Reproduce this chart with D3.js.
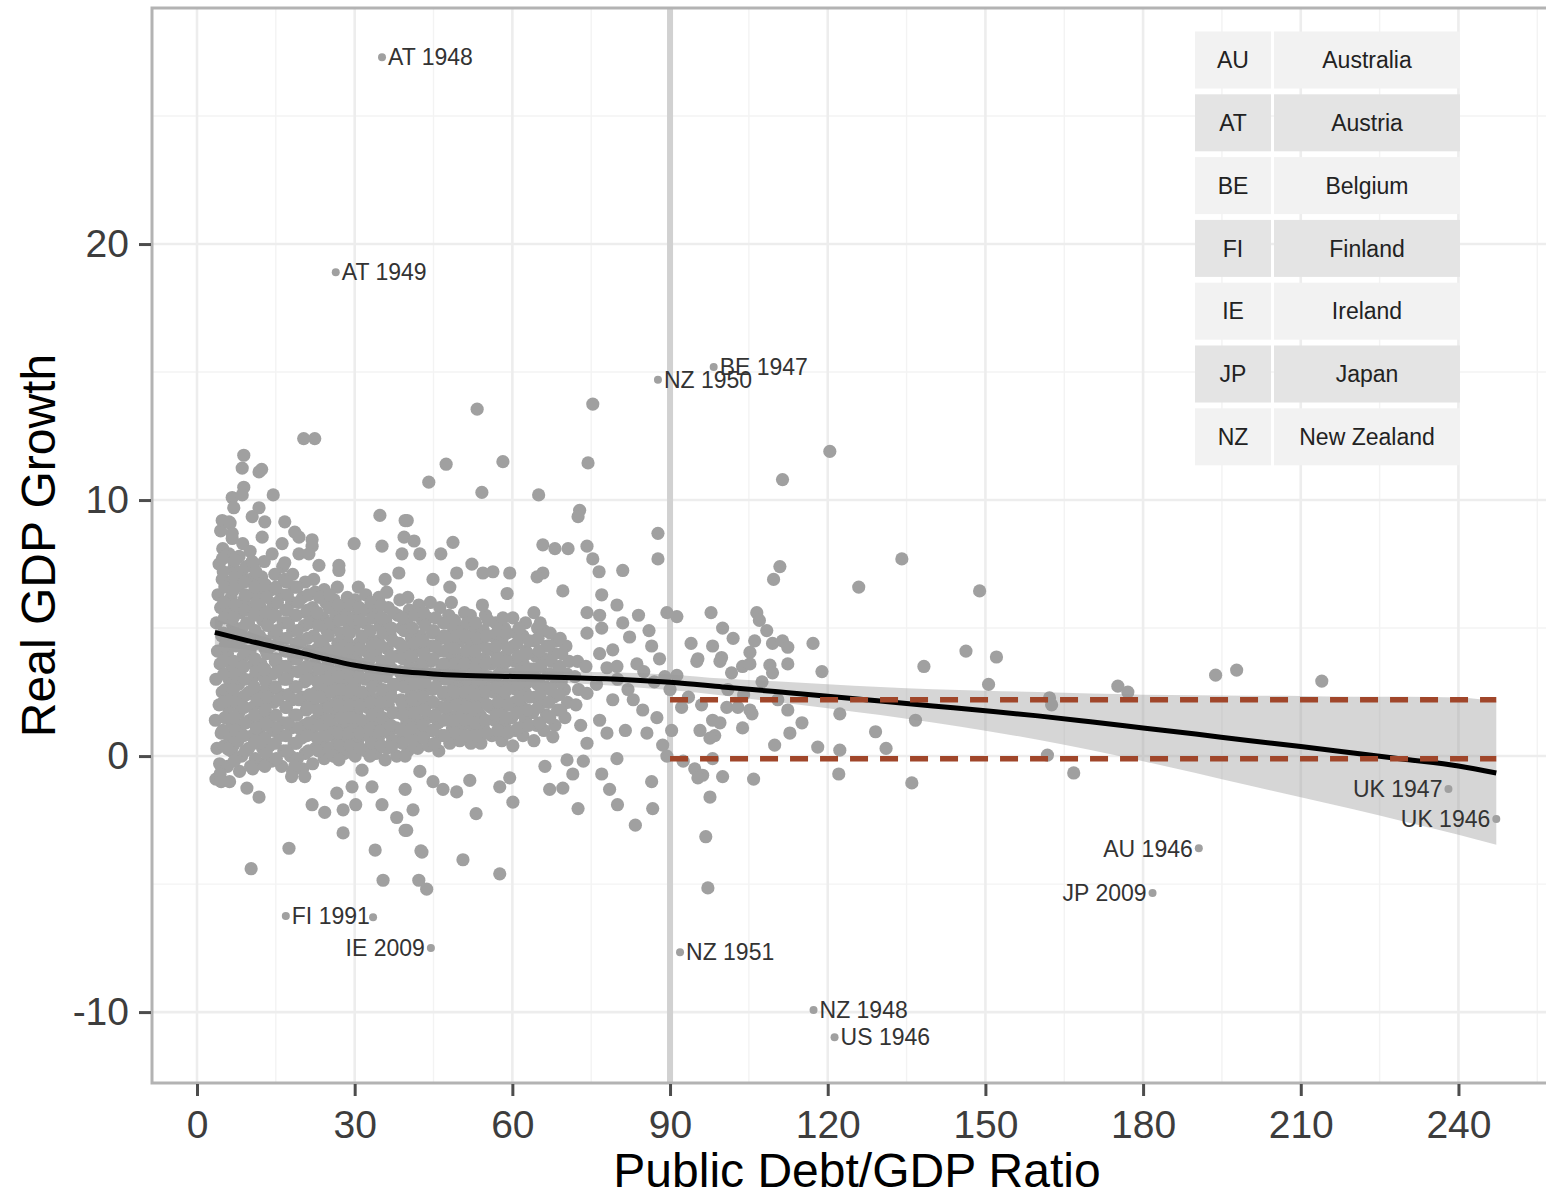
<!DOCTYPE html>
<html>
<head>
<meta charset="utf-8">
<title>debt vs growth</title>
<script src="https://cdnjs.cloudflare.com/ajax/libs/d3/7.8.5/d3.min.js"></script>
<style>
body{margin:0;background:#fff;}
svg{display:block;}
text{font-family:"Liberation Sans",Arial,Helvetica,sans-serif;}
</style>
</head>
<body>
<script>
// ---- data ----
var xTicks = [0,30,60,90,120,150,180,210,240];
var yTicks = [-10,0,10,20];

// dense cloud, debt < 75
var coreCloud = [
 [3.6,-0.9],[4.3,-0.3],[3.8,0.3],[4.6,0.9],[3.5,1.4],[4.2,2.0],[4.8,2.5],[3.6,3.0],[4.4,3.6],[3.9,4.1],[4.7,4.7],[3.7,5.2],[4.5,5.8],[4.0,6.3],[4.8,6.9],[4.2,7.5],[4.9,8.1],[4.5,8.8],
 [6.2,-1.0],[5.8,-0.4],[6.5,0.2],[6.0,0.8],[6.6,1.3],[5.9,1.9],[6.4,2.4],[6.1,3.0],[6.7,3.5],[5.8,4.0],[6.3,4.6],[6.8,5.1],[6.0,5.7],[6.5,6.2],[6.2,6.8],[6.9,7.3],[6.1,7.9],[6.7,8.5],[6.3,9.1],
 [8.1,-0.6],[8.5,0.0],[7.8,0.6],[8.4,1.2],[8.0,1.7],[8.7,2.3],[7.9,2.8],[8.3,3.4],[8.8,3.9],[8.0,4.5],[8.6,5.0],[8.2,5.6],[8.9,6.1],[8.1,6.7],[8.5,7.2],[8.0,7.8],[8.7,8.3],
 [10.2,-0.4],[9.8,0.3],[10.5,0.8],[10.0,1.4],[10.6,1.9],[9.9,2.5],[10.4,3.0],[10.8,3.6],[10.1,4.1],[10.6,4.7],[9.8,5.2],[10.3,5.8],[10.9,6.3],[10.2,6.9],[10.7,7.4],[10.1,8.0],
 [12.1,-0.3],[12.5,0.3],[11.8,0.9],[12.4,1.4],[12.8,2.0],[12.0,2.5],[12.6,3.1],[12.2,3.6],[12.9,4.2],[11.9,4.7],[12.5,5.3],[12.1,5.8],[12.7,6.4],[12.3,7.0],[12.8,7.6],
 [14.2,-0.2],[13.8,0.4],[14.5,1.0],[14.0,1.5],[14.6,2.1],[13.9,2.6],[14.4,3.2],[14.9,3.7],[14.1,4.3],[14.7,4.8],[14.0,5.4],[14.5,5.9],[14.2,6.5],[14.8,7.1],
 [16.1,-0.4],[16.5,0.2],[15.8,0.8],[16.3,1.3],[16.9,1.9],[16.0,2.4],[16.6,3.0],[16.2,3.5],[16.8,4.1],[15.9,4.6],[16.4,5.2],[16.9,5.7],[16.1,6.3],[16.6,6.9],[16.3,7.4],
 [18.2,-0.6],[17.8,0.0],[18.5,0.5],[18.0,1.1],[18.6,1.6],[18.1,2.2],[18.7,2.7],[17.9,3.3],[18.4,3.8],[18.9,4.4],[18.2,4.9],[18.7,5.5],[18.0,6.0],[18.5,6.6],[18.2,7.1],
 [20.1,-0.5],[20.6,0.1],[19.9,0.7],[20.4,1.2],[20.8,1.8],[20.0,2.3],[20.5,2.9],[20.2,3.4],[20.9,4.0],[19.9,4.5],[20.4,5.1],[20.8,5.6],[20.1,6.2],[20.6,6.8],
 [22.0,-0.3],[22.5,0.3],[21.9,0.9],[22.6,1.4],[22.1,2.0],[22.7,2.5],[21.9,3.1],[22.4,3.6],[22.9,4.2],[22.2,4.7],[22.6,5.3],[22.0,5.8],[22.5,6.4],[22.2,6.9],
 [24.2,-0.1],[23.8,0.5],[24.5,1.0],[24.0,1.6],[24.6,2.1],[23.9,2.7],[24.4,3.2],[24.8,3.8],[24.1,4.3],[24.7,4.9],[24.0,5.4],[24.5,6.0],[24.2,6.5],
 [26.1,0.0],[26.6,0.6],[25.9,1.1],[26.4,1.7],[26.8,2.2],[26.0,2.8],[26.5,3.3],[26.2,3.9],[26.8,4.4],[25.9,5.0],[26.4,5.5],[26.1,6.1],[26.7,6.6],
 [28.0,0.1],[28.5,0.7],[27.9,1.2],[28.4,1.8],[28.8,2.3],[28.1,2.9],[28.6,3.4],[28.0,4.0],[28.5,4.5],[28.9,5.1],[28.2,5.6],[28.6,6.2],
 [30.1,0.0],[30.6,0.6],[29.9,1.1],[30.4,1.7],[30.8,2.2],[30.0,2.8],[30.5,3.3],[30.2,3.9],[30.8,4.4],[29.9,5.0],[30.4,5.5],[30.1,6.1],[30.7,6.6],
 [32.1,0.2],[32.5,0.8],[31.9,1.3],[32.4,1.9],[32.8,2.4],[32.0,3.0],[32.6,3.5],[32.2,4.1],[32.8,4.6],[31.9,5.2],[32.4,5.7],[32.1,6.3],
 [34.0,0.1],[34.5,0.7],[33.9,1.2],[34.4,1.8],[34.9,2.3],[34.1,2.9],[34.6,3.4],[34.0,4.0],[34.5,4.5],[34.9,5.1],[34.2,5.6],[34.6,6.2],
 [36.1,0.3],[36.6,0.9],[35.9,1.4],[36.4,2.0],[36.8,2.5],[36.0,3.1],[36.5,3.6],[36.2,4.2],[36.8,4.7],[35.9,5.3],[36.4,5.8],[36.1,6.4],
 [38.0,0.0],[38.5,0.6],[37.9,1.1],[38.4,1.7],[38.8,2.2],[38.1,2.8],[38.6,3.3],[38.0,3.9],[38.5,4.4],[38.9,5.0],[38.2,5.5],[38.6,6.1],
 [40.1,0.2],[40.6,0.8],[39.9,1.3],[40.4,1.9],[40.8,2.4],[40.0,3.0],[40.5,3.5],[40.2,4.1],[40.8,4.6],[39.9,5.2],[40.4,5.7],[40.1,6.2],
 [42.0,0.3],[42.5,0.9],[41.9,1.4],[42.4,2.0],[42.9,2.5],[42.1,3.1],[42.6,3.6],[42.0,4.2],[42.5,4.7],[42.9,5.3],[42.2,5.9],
 [44.1,0.4],[44.6,1.0],[43.9,1.5],[44.4,2.1],[44.8,2.6],[44.0,3.2],[44.5,3.7],[44.2,4.3],[44.8,4.8],[43.9,5.4],[44.4,6.0],
 [46.0,0.2],[46.5,0.8],[45.9,1.3],[46.4,1.9],[46.9,2.4],[46.1,3.0],[46.6,3.5],[46.0,4.1],[46.5,4.6],[46.9,5.2],[46.2,5.8],
 [48.1,0.5],[48.6,1.1],[47.9,1.6],[48.4,2.2],[48.8,2.7],[48.0,3.3],[48.5,3.8],[48.2,4.4],[48.8,4.9],[47.9,5.5],[48.4,6.0],
 [50.0,0.6],[50.5,1.2],[49.9,1.7],[50.4,2.3],[50.9,2.8],[50.1,3.4],[50.6,3.9],[50.0,4.5],[50.5,5.0],[50.9,5.6],
 [52.1,0.5],[52.6,1.1],[51.9,1.6],[52.4,2.2],[52.8,2.7],[52.0,3.3],[52.5,3.8],[52.2,4.4],[52.8,4.9],[52.0,5.5],
 [54.0,0.5],[54.5,1.1],[53.9,1.6],[54.4,2.2],[54.9,2.7],[54.1,3.3],[54.6,3.8],[54.0,4.4],[54.5,4.9],[54.9,5.5],[54.3,5.9],
 [56.1,0.8],[56.6,1.4],[55.9,1.9],[56.4,2.5],[56.8,3.0],[56.0,3.6],[56.5,4.1],[56.2,4.7],[56.8,5.2],
 [58.0,0.6],[58.5,1.2],[57.9,1.7],[58.4,2.3],[58.9,2.8],[58.1,3.4],[58.6,3.9],[58.0,4.5],[58.5,5.0],[58.2,5.4],
 [60.1,0.4],[60.6,1.0],[59.9,1.5],[60.4,2.1],[60.8,2.6],[60.0,3.2],[60.5,3.7],[60.2,4.3],[60.8,4.8],[60.1,5.4],
 [62.0,0.8],[62.5,1.4],[61.9,1.9],[62.4,2.5],[62.9,3.0],[62.1,3.6],[62.6,4.1],[62.0,4.7],[62.5,5.2],
 [64.1,0.6],[64.6,1.2],[63.9,1.7],[64.4,2.3],[64.8,2.8],[64.0,3.4],[64.5,3.9],[64.2,4.5],[64.8,5.0],[64.1,5.6],
 [66.0,1.0],[66.5,1.6],[65.9,2.1],[66.4,2.7],[66.9,3.2],[66.1,3.8],[66.6,4.3],[66.0,4.9],
 [68.1,1.2],[68.6,1.8],[67.9,2.3],[68.4,2.9],[68.8,3.4],[68.0,4.0],[68.5,4.5],
 [70.0,1.5],[70.5,2.1],[69.9,2.6],[70.4,3.2],[70.8,3.7],[70.2,4.3],
 [72.1,2.0],[72.6,2.6],[71.9,3.1],[72.4,3.7]
];

// more points packed in between, where the cloud is solid
var coreFill = [
 [5.2,0.4],[4.9,1.0],[5.3,1.5],[5.0,2.1],[5.4,2.6],[5.1,3.2],[4.9,3.7],[5.3,4.3],[5.0,4.8],[5.2,5.4],[5.1,6.0],[5.3,6.6],[5.0,7.2],[5.4,7.8],
 [7.1,-0.2],[6.9,0.4],[7.3,1.0],[7.0,1.5],[7.4,2.1],[6.9,2.6],[7.2,3.2],[7.0,3.7],[7.4,4.3],[7.1,4.8],[6.9,5.4],[7.3,5.9],[7.0,6.5],[7.2,7.0],[7.0,7.6],
 [9.2,0.2],[8.9,0.8],[9.3,1.3],[9.0,1.9],[9.4,2.4],[9.1,3.0],[8.9,3.5],[9.3,4.1],[9.0,4.6],[9.4,5.2],[9.1,5.7],[9.2,6.3],[9.0,6.8],[9.3,7.4],
 [11.1,-0.1],[10.9,0.5],[11.3,1.1],[11.0,1.6],[11.4,2.2],[10.9,2.7],[11.2,3.3],[11.0,3.8],[11.4,4.4],[11.1,4.9],[10.9,5.5],[11.3,6.0],[11.0,6.6],[11.2,7.2],
 [13.2,0.1],[12.9,0.7],[13.3,1.2],[13.0,1.8],[13.4,2.3],[13.1,2.9],[12.9,3.4],[13.3,4.0],[13.0,4.5],[13.4,5.1],[13.1,5.6],[13.2,6.2],[13.0,6.7],
 [15.1,-0.1],[14.9,0.5],[15.3,1.1],[15.0,1.6],[15.4,2.2],[14.9,2.7],[15.2,3.3],[15.0,3.8],[15.4,4.4],[15.1,4.9],[14.9,5.5],[15.3,6.0],[15.0,6.6],
 [17.2,0.2],[16.9,0.8],[17.3,1.3],[17.0,1.9],[17.4,2.4],[17.1,3.0],[16.9,3.5],[17.3,4.1],[17.0,4.6],[17.4,5.2],[17.1,5.7],[17.2,6.3],[17.0,6.8],
 [19.1,-0.1],[18.9,0.5],[19.3,1.1],[19.0,1.6],[19.4,2.2],[18.9,2.7],[19.2,3.3],[19.0,3.8],[19.4,4.4],[19.1,4.9],[18.9,5.5],[19.3,6.0],[19.0,6.6],
 [21.2,0.2],[20.9,0.8],[21.3,1.3],[21.0,1.9],[21.4,2.4],[21.1,3.0],[20.9,3.5],[21.3,4.1],[21.0,4.6],[21.4,5.2],[21.1,5.7],[21.2,6.3],
 [23.1,0.2],[22.9,0.7],[23.3,1.2],[23.0,1.8],[23.4,2.3],[22.9,2.9],[23.2,3.4],[23.0,4.0],[23.4,4.5],[23.1,5.1],[22.9,5.6],[23.3,6.2],
 [25.2,0.3],[24.9,0.8],[25.3,1.4],[25.0,1.9],[25.4,2.5],[25.1,3.0],[24.9,3.6],[25.3,4.1],[25.0,4.7],[25.4,5.2],[25.1,5.8],[25.2,6.3],
 [27.1,0.4],[26.9,0.9],[27.3,1.5],[27.0,2.0],[27.4,2.6],[26.9,3.1],[27.2,3.7],[27.0,4.2],[27.4,4.8],[27.1,5.3],[26.9,5.9],
 [29.2,0.4],[28.9,0.9],[29.3,1.5],[29.0,2.0],[29.4,2.6],[29.1,3.1],[28.9,3.7],[29.3,4.2],[29.0,4.8],[29.4,5.3],[29.1,5.9],
 [31.1,0.3],[30.9,0.9],[31.3,1.4],[31.0,2.0],[31.4,2.5],[30.9,3.1],[31.2,3.6],[31.0,4.2],[31.4,4.7],[31.1,5.3],[30.9,5.8],
 [33.2,0.5],[32.9,1.0],[33.3,1.6],[33.0,2.1],[33.4,2.7],[33.1,3.2],[32.9,3.8],[33.3,4.3],[33.0,4.9],[33.4,5.4],[33.1,6.0],
 [35.1,0.4],[34.9,1.0],[35.3,1.5],[35.0,2.1],[35.4,2.6],[34.9,3.2],[35.2,3.7],[35.0,4.3],[35.4,4.8],[35.1,5.4],[34.9,5.9],
 [37.2,0.6],[36.9,1.2],[37.3,1.7],[37.0,2.3],[37.4,2.8],[37.1,3.4],[36.9,3.9],[37.3,4.5],[37.0,5.0],[37.4,5.6],
 [39.1,0.5],[38.9,1.0],[39.3,1.6],[39.0,2.1],[39.4,2.7],[38.9,3.2],[39.2,3.8],[39.0,4.3],[39.4,4.9],[39.1,5.4],
 [41.2,0.6],[40.9,1.1],[41.3,1.7],[41.0,2.2],[41.4,2.8],[41.1,3.3],[40.9,3.9],[41.3,4.4],[41.0,5.0],[41.4,5.5],
 [43.1,0.7],[42.9,1.2],[43.3,1.8],[43.0,2.3],[43.4,2.9],[42.9,3.4],[43.2,4.0],[43.0,4.5],[43.4,5.1],[43.1,5.6],
 [45.2,0.5],[44.9,1.0],[45.3,1.6],[45.0,2.1],[45.4,2.7],[45.1,3.2],[44.9,3.8],[45.3,4.3],[45.0,4.9],[45.4,5.4],
 [47.1,0.8],[46.9,1.4],[47.3,1.9],[47.0,2.5],[47.4,3.0],[46.9,3.6],[47.2,4.1],[47.0,4.7],[47.4,5.2],
 [49.2,0.9],[48.9,1.4],[49.3,2.0],[49.0,2.5],[49.4,3.1],[49.1,3.6],[48.9,4.2],[49.3,4.7],[49.0,5.3],
 [51.1,0.8],[50.9,1.4],[51.3,1.9],[51.0,2.5],[51.4,3.0],[50.9,3.6],[51.2,4.1],[51.0,4.7],[51.4,5.2],
 [53.2,0.8],[52.9,1.3],[53.3,1.9],[53.0,2.4],[53.4,3.0],[53.1,3.5],[52.9,4.1],[53.3,4.6],[53.0,5.2],
 [55.1,0.9],[54.9,1.4],[55.3,2.0],[55.0,2.5],[55.4,3.1],[54.9,3.6],[55.2,4.2],[55.0,4.7],[55.4,5.3],
 [57.2,1.0],[56.9,1.6],[57.3,2.1],[57.0,2.7],[57.4,3.2],[57.1,3.8],[56.9,4.3],[57.3,4.9],
 [59.1,0.9],[58.9,1.5],[59.3,2.0],[59.0,2.6],[59.4,3.1],[58.9,3.7],[59.2,4.2],[59.0,4.8],
 [61.2,1.1],[60.9,1.7],[61.3,2.2],[61.0,2.8],[61.4,3.3],[61.1,3.9],[60.9,4.4],[61.3,5.0],
 [63.1,1.2],[62.9,1.8],[63.3,2.3],[63.0,2.9],[63.4,3.4],[62.9,4.0],[63.2,4.5],
 [65.2,1.3],[64.9,1.9],[65.3,2.4],[65.0,3.0],[65.4,3.5],[65.1,4.1],[64.9,4.6],[65.3,5.2],
 [67.1,1.5],[66.9,2.1],[67.3,2.6],[67.0,3.2],[67.4,3.7],[66.9,4.3],[67.2,4.8],
 [69.2,1.8],[68.9,2.4],[69.3,2.9],[69.0,3.5],[69.4,4.0],[69.1,4.6]
];

// scattered points above the cloud
var upperScatter = [
 [20.3,12.4],[22.4,12.4],[8.9,11.75],[8.6,11.25],[11.8,11.1],[12.3,11.2],[8.9,10.5],[6.7,10.1],[8.6,10.2],[7.0,9.7],
 [14.5,10.2],[11.8,9.7],[10.5,9.35],[4.8,9.2],[6.1,9.15],[12.9,9.15],[16.7,9.15],[18.6,8.75],[19.4,8.55],[21.9,8.45],
 [6.7,8.7],[12.4,8.55],[16.2,8.3],[21.9,8.2],[4.8,7.7],[7.2,7.65],[10.5,7.6],[14.3,7.9],[16.7,7.55],[19.4,7.9],
 [21.3,7.9],[23.2,7.45],[27.0,7.45],[29.9,8.3],[27.0,7.25],[34.8,9.4],[35.2,8.2],[39.4,8.55],[39.6,9.2],[39.0,7.9],
 [38.4,7.15],[35.8,6.9],[53.3,13.55],[75.3,13.75],[47.4,11.4],[58.2,11.5],[74.4,11.45],[44.1,10.7],[54.2,10.3],[65.0,10.2],
 [72.8,9.6],[72.5,9.35],[40.0,9.2],[48.7,8.35],[41.3,8.4],[42.4,7.9],[46.4,7.9],[52.3,7.5],[65.8,8.25],[68.1,8.1],
 [70.6,8.1],[74.2,8.2],[75.3,7.7],[76.5,7.2],[81.0,7.25],[87.7,8.7],[87.7,7.7],[59.5,7.15],[65.8,7.15],[64.7,7.0],
 [49.4,7.15],[54.4,7.15],[56.3,7.2],[44.9,6.9],[69.6,6.45],[77.0,6.3],[59.0,6.35],[48.1,6.6]
];

// scattered points below the cloud
var lowerScatter = [
 [4.4,-0.7],[4.6,-1.0],[5.9,0.27],[9.5,-1.25],[11.8,-1.6],[10.5,-0.4],[12.9,-0.4],[17.5,-3.6],[21.9,-1.9],[24.3,-2.2],
 [27.8,-2.1],[27.8,-3.0],[30.2,-1.9],[26.6,-1.45],[29.5,-1.2],[33.9,-3.67],[35.2,-1.9],[38.0,-2.4],[39.6,-2.9],[33.3,-1.2],
 [39.6,-1.3],[18.6,-0.4],[20.5,-0.8],[18.0,-0.8],[10.6,-0.5],[26.0,0.0],[27.0,-0.15],[31.4,-0.55],[32.9,0.0],[35.8,-0.15],
 [39.6,0.0],[37.0,0.35],[10.3,-4.4],[35.4,-4.85],[42.2,-4.85],[43.7,-5.2],[42.6,-3.7],[42.4,-0.6],[44.9,-1.0],[46.8,-1.3],
 [49.4,-1.4],[51.9,-0.95],[57.6,-1.2],[59.5,-0.85],[60.1,-1.8],[53.1,-2.25],[41.1,-2.1],[39.9,-2.9],[42.8,-3.75],[50.6,-4.05],
 [57.6,-4.6],[66.2,-0.4],[67.7,0.75],[70.4,-0.15],[71.5,-0.7],[67.1,-1.3],[69.6,-1.25],[72.5,-2.05],[77.0,-0.7],[78.5,-1.3],
 [79.9,-0.1],[80.0,-1.9],[83.4,-2.7],[86.5,-1.0],[86.7,-2.05]
];

// points between 72 and 90 percent debt
var midScatter = [
 [82.3,4.65],[86.5,4.3],[83.7,3.6],[74.2,4.8],[76.6,4.0],[79.1,4.15],[78.0,3.45],[79.9,3.5],[89.4,5.6],[79.9,5.9],
 [74.2,5.6],[76.6,5.5],[83.0,2.2],[84.8,1.8],[87.5,1.5],[74.2,2.45],[79.1,2.2],[76.6,1.4],[78.0,0.9],[74.2,0.5],
 [85.6,0.9],[88.6,0.43],[89.4,0.0],[74.0,3.5],[76.0,2.8],[80.0,3.0],[82.0,2.6],[85.0,3.3],[87.0,2.9],[73.0,1.2],
 [77.0,5.0],[81.0,5.2],[84.0,5.5],[86.0,4.9],[88.0,3.8],[89.0,3.1],[81.5,1.0],[73.5,-0.2]
];

// points above 90 percent debt
var highDebt = [
 [91.3,5.45],[97.8,5.6],[106.5,5.6],[107.0,5.3],[108.4,4.9],[106.1,4.5],[109.5,4.4],[111.4,4.5],[112.4,4.25],[94.0,4.4],
 [98.1,4.3],[117.2,4.4],[95.3,3.8],[99.8,3.85],[105.2,4.05],[95.1,3.7],[99.5,3.7],[103.8,3.5],[105.2,3.6],[101.7,3.25],
 [109.0,3.55],[109.5,3.25],[112.4,3.6],[118.9,3.3],[90.0,2.6],[91.3,3.15],[92.2,1.9],[90.3,1.0],[95.7,1.0],[98.1,1.4],
 [99.5,1.3],[98.5,0.8],[97.6,0.7],[100.8,1.9],[102.9,1.9],[105.2,1.8],[103.8,1.1],[105.6,1.65],[112.4,1.8],[115.1,1.3],
 [112.8,0.9],[109.9,0.43],[118.1,0.35],[122.3,1.65],[122.3,0.23],[129.1,0.95],[131.1,0.3],[136.7,1.4],[122.1,-0.7],[136.0,-1.05],
 [94.7,-0.5],[96.2,-0.75],[95.3,-0.85],[98.1,-0.1],[100.0,-0.8],[105.9,-0.9],[97.6,-1.6],[96.8,-3.15],[97.2,-5.15],[120.4,11.9],
 [111.4,10.8],[134.1,7.7],[110.9,7.4],[109.7,6.9],[125.9,6.6],[148.9,6.45],[138.3,3.5],[146.3,4.1],[152.1,3.87],[150.6,2.8],
 [175.2,2.73],[177.1,2.5],[193.8,3.16],[197.8,3.36],[214.0,2.93],[162.2,2.27],[162.6,2.0],[161.8,0.04],[166.8,-0.66],[93.5,2.3],
 [96.0,2.0],[101.0,2.6],[104.0,2.4],[107.5,2.9],[110.5,2.2],[102.0,4.6],[100.0,5.0],[92.5,-0.2]
];

// labelled country-years
var labelNames  = ["AT 1948","AT 1949","BE 1947","NZ 1950","FI 1991","IE 2009","NZ 1951","NZ 1948","US 1946","AU 1946","JP 2009","UK 1947","UK 1946"];
var labelDebt   = [35.2, 26.4, 98.3, 87.7, 16.9, 44.5, 91.9, 117.3, 121.3, 190.6, 181.8, 238.1, 247.2];
var labelGrowth = [27.3, 18.9, 15.2, 14.7, -6.25, -7.5, -7.66, -9.92, -10.98, -3.6, -5.35, -1.29, -2.46];
var labelSide   = ["r","r","r","r","r","l","r","r","r","l","l","l","l"];
var unlabelled  = [[33.5,-6.3]];

// loess fit and its band half-width
var smoothDebt = [3.4,10,20,25,30,35,40,45,50,60,70,80,90,100,110,120,130,140,150,160,170,180,190,200,210,220,230,240,247.2];
var smoothFit  = [4.83,4.49,4.02,3.77,3.55,3.39,3.28,3.21,3.16,3.11,3.07,3.0,2.88,2.7,2.52,2.34,2.15,1.96,1.77,1.57,1.34,1.1,0.86,0.61,0.37,0.12,-0.13,-0.39,-0.66];
var smoothHalf = [0.55,0.35,0.25,0.23,0.22,0.21,0.2,0.2,0.2,0.2,0.22,0.26,0.3,0.33,0.4,0.47,0.55,0.65,0.78,0.93,1.1,1.3,1.52,1.75,1.98,2.2,2.45,2.68,2.8];

var threshold = 90;
var meanLevels = [2.2, -0.1];
var meanRange = [90, 247.2];

var codes = ["AU","AT","BE","FI","IE","JP","NZ"];
var countries = ["Australia","Austria","Belgium","Finland","Ireland","Japan","New Zealand"];

// ---- layout ----
var W = 1546, H = 1197;
var panel = {left:152, top:8, right:1562, bottom:1083};

var svg = d3.select("body").append("svg")
	.attr("width", W).attr("height", H);

var x = d3.scaleLinear().domain([-8.56, 259.7]).range([panel.left, panel.right]);
var y = d3.scaleLinear().domain([-12.77, 29.22]).range([panel.bottom, panel.top]);

svg.append("rect").attr("x",0).attr("y",0).attr("width",W).attr("height",H).attr("fill","#fff");

svg.append("clipPath").attr("id","clip")
	.append("rect")
	.attr("x",panel.left).attr("y",panel.top)
	.attr("width",panel.right-panel.left).attr("height",panel.bottom-panel.top);

var plot = svg.append("g").attr("clip-path","url(#clip)");

// grid
var xMinor = [15,45,75,105,135,165,195,225,255];
var yMinor = [-5,5,15,25];
plot.selectAll("line.gxm").data(xMinor).enter().append("line")
	.attr("x1",d=>x(d)).attr("x2",d=>x(d)).attr("y1",panel.top).attr("y2",panel.bottom)
	.attr("stroke","#f3f3f3").attr("stroke-width",1.4);
plot.selectAll("line.gym").data(yMinor).enter().append("line")
	.attr("y1",d=>y(d)).attr("y2",d=>y(d)).attr("x1",panel.left).attr("x2",panel.right)
	.attr("stroke","#f3f3f3").attr("stroke-width",1.4);
plot.selectAll("line.gx").data(xTicks).enter().append("line")
	.attr("x1",d=>x(d)).attr("x2",d=>x(d)).attr("y1",panel.top).attr("y2",panel.bottom)
	.attr("stroke","#ededed").attr("stroke-width",2.6);
plot.selectAll("line.gy").data(yTicks).enter().append("line")
	.attr("y1",d=>y(d)).attr("y2",d=>y(d)).attr("x1",panel.left).attr("x2",panel.right)
	.attr("stroke","#ededed").attr("stroke-width",2.6);

// 90% threshold
plot.append("line")
	.attr("x1",x(threshold)).attr("x2",x(threshold))
	.attr("y1",panel.top).attr("y2",panel.bottom)
	.attr("stroke","#d1d1d1").attr("stroke-width",6);

// points
var allPoints = coreCloud.concat(coreFill, upperScatter, lowerScatter, midScatter, highDebt);
plot.selectAll("circle.pt").data(allPoints).enter().append("circle")
	.attr("class","pt")
	.attr("cx",d=>x(d[0])).attr("cy",d=>y(d[1]))
	.attr("r",6.6).attr("fill","#a0a0a0");

// smooth band and line
var smooth = smoothDebt.map((d,i)=>({x:d, f:smoothFit[i], h:smoothHalf[i]}));
plot.append("path").datum(smooth)
	.attr("d", d3.area().curve(d3.curveMonotoneX)
		.x(d=>x(d.x)).y0(d=>y(d.f-d.h)).y1(d=>y(d.f+d.h)))
	.attr("fill","#999999").attr("fill-opacity",0.4);
plot.append("path").datum(smooth)
	.attr("d", d3.line().curve(d3.curveMonotoneX).x(d=>x(d.x)).y(d=>y(d.f)))
	.attr("fill","none").attr("stroke","#000").attr("stroke-width",5);

// mean growth above 90%
plot.selectAll("line.mean").data(meanLevels).enter().append("line")
	.attr("x1",x(meanRange[0])).attr("x2",x(meanRange[1]))
	.attr("y1",d=>y(d)).attr("y2",d=>y(d))
	.attr("stroke","#a0462a").attr("stroke-width",5.5)
	.attr("stroke-dasharray","18,12");

// labelled points
var labs = labelNames.map((n,i)=>({n:n, x:labelDebt[i], y:labelGrowth[i], s:labelSide[i]}));
plot.selectAll("circle.lab").data(labs).enter().append("circle")
	.attr("cx",d=>x(d.x)).attr("cy",d=>y(d.y)).attr("r",4).attr("fill","#a0a0a0");
plot.selectAll("circle.unl").data(unlabelled).enter().append("circle")
	.attr("cx",d=>x(d[0])).attr("cy",d=>y(d[1])).attr("r",4).attr("fill","#a0a0a0");
plot.selectAll("text.lab").data(labs).enter().append("text")
	.attr("x",d=>x(d.x)+(d.s=="r"?6:-6))
	.attr("y",d=>y(d.y))
	.attr("dy","0.36em")
	.attr("text-anchor",d=>d.s=="r"?"start":"end")
	.attr("font-size",23).attr("fill","#333")
	.text(d=>d.n);

// country table
var tab = svg.append("g");
var tTop = 31.5, rowH = 62.8, cellH = 57;
var colX = [1195, 1274], colW = [76, 186];
codes.forEach(function(c,i){
	var fill = i%2==0 ? "#f2f2f2" : "#e4e4e4";
	[c, countries[i]].forEach(function(t,j){
		tab.append("rect")
			.attr("x",colX[j]).attr("y",tTop+i*rowH)
			.attr("width",colW[j]).attr("height",cellH)
			.attr("fill",fill);
		tab.append("text")
			.attr("x",colX[j]+colW[j]/2).attr("y",tTop+i*rowH+cellH/2)
			.attr("dy","0.36em").attr("text-anchor","middle")
			.attr("font-size",23).attr("fill","#222")
			.text(t);
	});
});

// panel border
svg.append("rect")
	.attr("x",panel.left).attr("y",panel.top)
	.attr("width",panel.right-panel.left).attr("height",panel.bottom-panel.top)
	.attr("fill","none").attr("stroke","#b3b3b3").attr("stroke-width",3);

// axes
var xAxis = svg.append("g").attr("transform","translate(0,"+(panel.bottom+1)+")")
	.call(d3.axisBottom(x).tickValues(xTicks).tickFormat(d=>String(d)).tickSize(12).tickPadding(14));
var yAxis = svg.append("g").attr("transform","translate("+(panel.left-1)+",0)")
	.call(d3.axisLeft(y).tickValues(yTicks).tickFormat(d=>String(d)).tickSize(12).tickPadding(10));
[xAxis,yAxis].forEach(function(a){
	a.select(".domain").remove();
	a.selectAll(".tick line").attr("stroke","#4d4d4d").attr("stroke-width",3);
	a.selectAll(".tick text").attr("font-size",39).attr("fill","#3d3d3d")
		.attr("font-family","'Liberation Sans',Arial,sans-serif");
});

// titles
svg.append("text")
	.attr("x",(panel.left+panel.right)/2).attr("y",1187)
	.attr("text-anchor","middle").attr("font-size",48).attr("fill","#000")
	.text("Public Debt/GDP Ratio");
svg.append("text")
	.attr("transform","translate(55,"+((panel.top+panel.bottom)/2)+") rotate(-90)")
	.attr("text-anchor","middle").attr("font-size",48).attr("fill","#000")
	.text("Real GDP Growth");
</script>
</body>
</html>
